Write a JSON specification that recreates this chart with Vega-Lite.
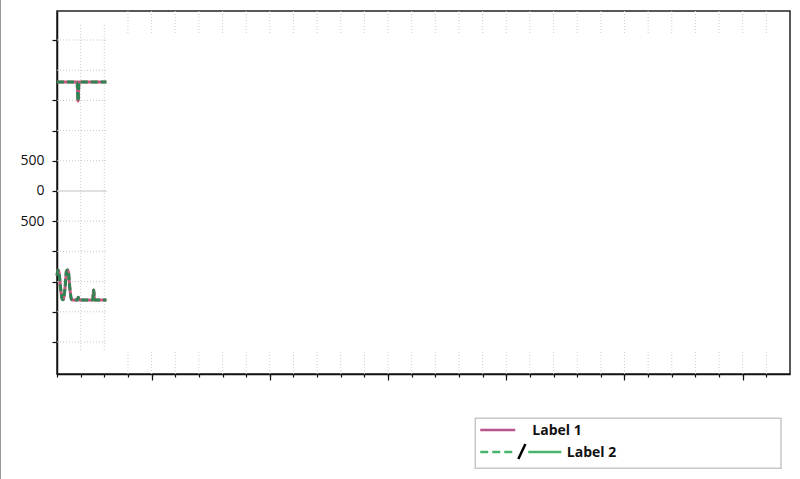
{
  "$schema": "https://vega.github.io/schema/vega-lite/v6.json",
  "width": 733,
  "height": 363,
  "autosize": {"type": "none"},
  "padding": {"left": 57, "top": 11, "right": 10, "bottom": 105},
  "background": "white",
  "config": {"view": {"stroke": "#222", "strokeWidth": 1.5}, "font": "Open Sans"},
  "resolve": {"axis": {"x": "independent"}},
  "datasets": {
    "hgrid": [
      {"y": -2500}, {"y": -2000}, {"y": -1500}, {"y": -1000}, {"y": -500},
      {"y": 500}, {"y": 1000}, {"y": 1500}, {"y": 2000}, {"y": 2500}
    ],
    "vleft": [{"x": -3}, {"x": -2}],
    "vstrip": [
      {"x": -1}, {"x": 0}, {"x": 1}, {"x": 2}, {"x": 3}, {"x": 4}, {"x": 5}, {"x": 6},
      {"x": 7}, {"x": 8}, {"x": 9}, {"x": 10}, {"x": 11}, {"x": 12}, {"x": 13}, {"x": 14},
      {"x": 15}, {"x": 16}, {"x": 17}, {"x": 18}, {"x": 19}, {"x": 20}, {"x": 21}, {"x": 22},
      {"x": 23}, {"x": 24}, {"x": 25}, {"x": 26}
    ],
    "series": [
      {"series": "Label 1", "x": -4.0, "y": 1805},
      {"series": "Label 1", "x": -3.15, "y": 1805},
      {"series": "Label 1", "x": -3.11, "y": 1490},
      {"series": "Label 1", "x": -3.07, "y": 1805},
      {"series": "Label 1", "x": -1.91, "y": 1805},
      {"series": "Label 2", "x": -4.0, "y": 1805},
      {"series": "Label 2", "x": -3.15, "y": 1805},
      {"series": "Label 2", "x": -3.11, "y": 1490},
      {"series": "Label 2", "x": -3.07, "y": 1805},
      {"series": "Label 2", "x": -1.91, "y": 1805},
      {"series": "Label 1 ", "x": -4.0, "y": -1400},
      {"series": "Label 1 ", "x": -3.96, "y": -1310},
      {"series": "Label 1 ", "x": -3.92, "y": -1340},
      {"series": "Label 1 ", "x": -3.85, "y": -1600},
      {"series": "Label 1 ", "x": -3.78, "y": -1790},
      {"series": "Label 1 ", "x": -3.74, "y": -1800},
      {"series": "Label 1 ", "x": -3.66, "y": -1600},
      {"series": "Label 1 ", "x": -3.6, "y": -1330},
      {"series": "Label 1 ", "x": -3.56, "y": -1308},
      {"series": "Label 1 ", "x": -3.52, "y": -1340},
      {"series": "Label 1 ", "x": -3.46, "y": -1600},
      {"series": "Label 1 ", "x": -3.39, "y": -1790},
      {"series": "Label 1 ", "x": -3.35, "y": -1805},
      {"series": "Label 1 ", "x": -3.14, "y": -1805},
      {"series": "Label 1 ", "x": -3.1, "y": -1760},
      {"series": "Label 1 ", "x": -3.06, "y": -1805},
      {"series": "Label 1 ", "x": -2.49, "y": -1805},
      {"series": "Label 1 ", "x": -2.45, "y": -1640},
      {"series": "Label 1 ", "x": -2.41, "y": -1805},
      {"series": "Label 1 ", "x": -1.91, "y": -1805},
      {"series": "Label 2 ", "x": -4.0, "y": -1400},
      {"series": "Label 2 ", "x": -3.96, "y": -1310},
      {"series": "Label 2 ", "x": -3.92, "y": -1340},
      {"series": "Label 2 ", "x": -3.85, "y": -1600},
      {"series": "Label 2 ", "x": -3.78, "y": -1790},
      {"series": "Label 2 ", "x": -3.74, "y": -1800},
      {"series": "Label 2 ", "x": -3.66, "y": -1600},
      {"series": "Label 2 ", "x": -3.6, "y": -1330},
      {"series": "Label 2 ", "x": -3.56, "y": -1308},
      {"series": "Label 2 ", "x": -3.52, "y": -1340},
      {"series": "Label 2 ", "x": -3.46, "y": -1600},
      {"series": "Label 2 ", "x": -3.39, "y": -1790},
      {"series": "Label 2 ", "x": -3.35, "y": -1805},
      {"series": "Label 2 ", "x": -3.14, "y": -1805},
      {"series": "Label 2 ", "x": -3.1, "y": -1760},
      {"series": "Label 2 ", "x": -3.06, "y": -1805},
      {"series": "Label 2 ", "x": -2.49, "y": -1805},
      {"series": "Label 2 ", "x": -2.45, "y": -1640},
      {"series": "Label 2 ", "x": -2.41, "y": -1805},
      {"series": "Label 2 ", "x": -1.91, "y": -1805}
    ]
  },
  "layer": [
    {
      "data": {"name": "hgrid"},
      "mark": {"type": "rule", "color": "#c8c8c8", "strokeDash": [1, 2], "strokeWidth": 1},
      "encoding": {
        "x": {
          "datum": -4,
          "type": "quantitative",
          "scale": {"domain": [-4, 27], "nice": false, "zero": false},
          "axis": {
            "title": null,
            "labels": false,
            "grid": false,
            "orient": "bottom",
            "values": [-4, -3, -2, -1, 0, 1, 2, 3, 4, 5, 6, 7, 8, 9, 10, 11, 12, 13, 14, 15, 16, 17, 18, 19, 20, 21, 22, 23, 24, 25, 26],
            "domainColor": "#111",
            "domainWidth": 1.5,
            "tickColor": "#111",
            "tickWidth": 1.2,
            "tickSize": 3
          }
        },
        "x2": {"datum": -1.9},
        "y": {
          "field": "y",
          "type": "quantitative",
          "scale": {"domain": [-3030, 2980], "nice": false, "zero": false},
          "axis": {
            "title": null,
            "grid": false,
            "values": [-2500, -2000, -1500, -1000, -500, 0, 500, 1000, 1500, 2500],
            "labelExpr": "datum.value === 0 ? '0' : (datum.value === 500 || datum.value === -500) ? '500' : ''",
            "labelFont": "Open Sans",
            "labelFontSize": 14,
            "labelColor": "#111",
            "labelPadding": 8,
            "tickSize": 5,
            "tickWidth": 1.2,
            "tickColor": "#111",
            "domainColor": "#111",
            "domainWidth": 1.5
          }
        }
      }
    },
    {
      "data": {"values": [{"y": 0}]},
      "mark": {"type": "rule", "color": "#d6d6d6", "strokeWidth": 1.5},
      "encoding": {
        "x": {
          "datum": -4,
          "type": "quantitative",
          "axis": {
            "title": null,
            "labels": false,
            "grid": false,
            "domain": false,
            "orient": "bottom",
            "values": [0, 5, 10, 15, 20, 25],
            "tickColor": "#111",
            "tickWidth": 1.2,
            "tickSize": 6
          }
        },
        "x2": {"datum": -1.9},
        "y": {"field": "y", "type": "quantitative"}
      }
    },
    {
      "data": {"name": "vleft"},
      "mark": {"type": "rule", "color": "#c8c8c8", "strokeDash": [1, 2], "strokeWidth": 1},
      "encoding": {
        "x": {"field": "x", "type": "quantitative", "axis": null},
        "y": {"datum": 2750, "type": "quantitative"},
        "y2": {"datum": -2630}
      }
    },
    {
      "data": {"name": "vstrip"},
      "mark": {"type": "rule", "color": "#cccccc", "strokeDash": [1, 2], "strokeWidth": 1},
      "encoding": {
        "x": {"field": "x", "type": "quantitative", "axis": null},
        "y": {"datum": 2980, "type": "quantitative"},
        "y2": {"datum": 2616}
      }
    },
    {
      "data": {"name": "vstrip"},
      "mark": {"type": "rule", "color": "#cccccc", "strokeDash": [1, 2], "strokeWidth": 1},
      "encoding": {
        "x": {"field": "x", "type": "quantitative", "axis": null},
        "y": {"datum": -2666, "type": "quantitative"},
        "y2": {"datum": -3030}
      }
    },
    {
      "data": {"name": "series"},
      "mark": {"type": "line", "strokeWidth": 3, "interpolate": "monotone"},
      "encoding": {
        "x": {"field": "x", "type": "quantitative", "axis": null},
        "y": {"field": "y", "type": "quantitative"},
        "color": {
          "field": "series",
          "type": "nominal",
          "scale": {"domain": ["Label 1", "Label 1 ", "Label 2", "Label 2 "], "range": ["#c8567f", "#c8567f", "#2f8552", "#2f8552"]},
          "legend": null
        },
        "strokeDash": {
          "field": "series",
          "type": "nominal",
          "scale": {"domain": ["Label 1", "Label 1 ", "Label 2", "Label 2 "], "range": [[1, 0], [1, 0], [7, 3], [7, 3]]},
          "legend": null
        },
        "order": {"field": "x", "type": "quantitative"}
      }
    },
    {
      "data": {"values": [{}]},
      "mark": {"type": "rule", "color": "#999999", "strokeWidth": 2},
      "encoding": {
        "x": {"datum": -6.41, "type": "quantitative", "axis": null},
        "y": {"datum": 3250, "type": "quantitative"},
        "y2": {"datum": -4850}
      }
    },
    {
      "data": {"values": [{}]},
      "mark": {"type": "rect", "fill": "white", "stroke": "#c8c8c8", "strokeWidth": 1.5},
      "encoding": {
        "x": {"datum": 13.69, "type": "quantitative", "axis": null},
        "x2": {"datum": 26.62},
        "y": {"datum": -3763, "type": "quantitative"},
        "y2": {"datum": -4591}
      }
    },
    {
      "data": {"values": [{}]},
      "mark": {"type": "rule", "color": "#b9548c", "strokeWidth": 2.5},
      "encoding": {
        "x": {"datum": 13.9, "type": "quantitative", "axis": null},
        "x2": {"datum": 15.38},
        "y": {"datum": -3957, "type": "quantitative"}
      }
    },
    {
      "data": {"values": [{}]},
      "mark": {"type": "rule", "color": "#48b46c", "strokeWidth": 2.5, "strokeDash": [8, 4]},
      "encoding": {
        "x": {"datum": 13.9, "type": "quantitative", "axis": null},
        "x2": {"datum": 15.38},
        "y": {"datum": -4321, "type": "quantitative"}
      }
    },
    {
      "data": {"values": [{}]},
      "mark": {"type": "rule", "color": "#000000", "strokeWidth": 2.5},
      "encoding": {
        "x": {"datum": 15.51, "type": "quantitative", "axis": null},
        "x2": {"datum": 15.81},
        "y": {"datum": -4437, "type": "quantitative"},
        "y2": {"datum": -4189}
      }
    },
    {
      "data": {"values": [{}]},
      "mark": {"type": "rule", "color": "#48b46c", "strokeWidth": 2.5},
      "encoding": {
        "x": {"datum": 15.93, "type": "quantitative", "axis": null},
        "x2": {"datum": 17.33},
        "y": {"datum": -4321, "type": "quantitative"}
      }
    },
    {
      "data": {"values": [{"label": "Label 1"}]},
      "mark": {"type": "text", "font": "Open Sans", "fontWeight": "bold", "fontSize": 14, "align": "left", "baseline": "middle", "color": "#111"},
      "encoding": {
        "x": {"datum": 16.1, "type": "quantitative", "axis": null},
        "y": {"datum": -3973, "type": "quantitative"},
        "text": {"field": "label"}
      }
    },
    {
      "data": {"values": [{"label": "Label 2"}]},
      "mark": {"type": "text", "font": "Open Sans", "fontWeight": "bold", "fontSize": 14, "align": "left", "baseline": "middle", "color": "#111"},
      "encoding": {
        "x": {"datum": 17.56, "type": "quantitative", "axis": null},
        "y": {"datum": -4337, "type": "quantitative"},
        "text": {"field": "label"}
      }
    }
  ]
}
